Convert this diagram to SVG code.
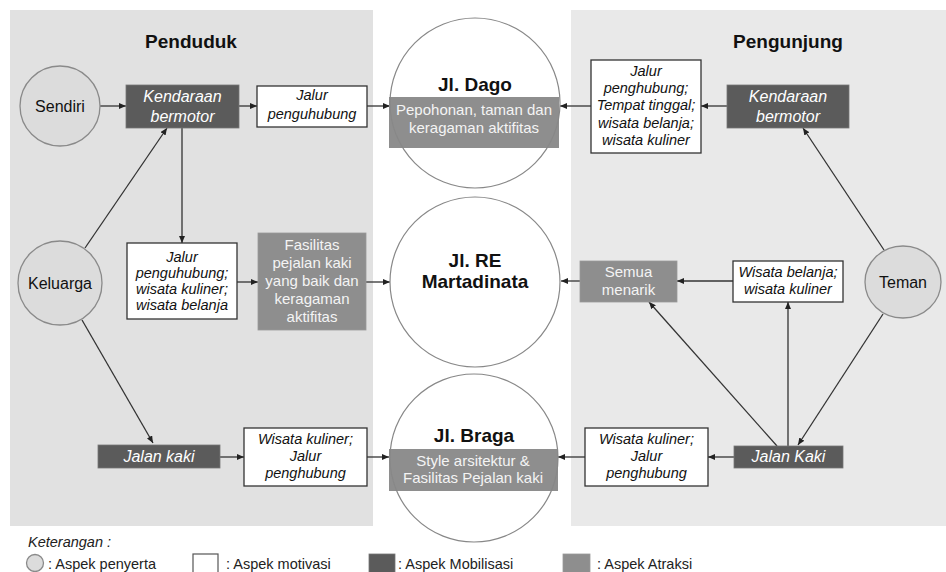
<svg xmlns="http://www.w3.org/2000/svg" width="946" height="572" viewBox="0 0 946 572">
<style>
text{font-family:"Liberation Sans",Arial,sans-serif;text-anchor:middle;fill:#111}
.title{font-size:19px;font-weight:bold}
.sm{font-size:16px}
.wb{fill:#fff;stroke:#333;stroke-width:1.3}
.wt{font-size:14.5px;font-style:italic}
.db{fill:#5b5b5b;stroke:#777;stroke-width:0.8}
.dt{font-size:16px;font-style:italic;fill:#fff}
.gb{fill:#8e8e8e;stroke:#999;stroke-width:0.8}
.gt{font-size:15px;fill:#f4f4f4}
.pc{fill:#dcdcdc;stroke:#8a8a8a;stroke-width:1.3}
.big{fill:none;stroke:#888;stroke-width:1.2}
.lg{font-size:14.5px;text-anchor:start;fill:#222}
#connectors line{stroke:#333;stroke-width:1.3;fill:none}
</style>
<defs>
<marker id="ah" markerUnits="userSpaceOnUse" markerWidth="7" markerHeight="6" refX="7" refY="3" orient="auto">
<path d="M0,0 L7,3 L0,6 z" fill="#222"/>
</marker>
</defs>

<rect x="10" y="10" width="363" height="516" fill="#e1e1e1"/>
<rect x="571" y="10" width="375" height="516" fill="#e9e9e9"/>
<text class="title" x="191" y="48">Penduduk</text>
<text class="title" x="788" y="48">Pengunjung</text>

<g id="connectors">
<line x1="100" y1="106" x2="126" y2="106" marker-end="url(#ah)"/>
<line x1="239" y1="106" x2="257" y2="106" marker-end="url(#ah)"/>
<line x1="367" y1="106" x2="390" y2="106" marker-end="url(#ah)"/>
<line x1="727" y1="106" x2="701" y2="106" marker-end="url(#ah)"/>
<line x1="591" y1="106" x2="560" y2="106" marker-end="url(#ah)"/>
<line x1="884" y1="250" x2="803" y2="128" marker-end="url(#ah)"/>
<line x1="85" y1="248" x2="167" y2="128" marker-end="url(#ah)"/>
<line x1="182" y1="128" x2="182" y2="243" marker-end="url(#ah)"/>
<line x1="237" y1="282" x2="258" y2="282" marker-end="url(#ah)"/>
<line x1="366" y1="282" x2="390" y2="282" marker-end="url(#ah)"/>
<line x1="580" y1="281" x2="561" y2="281" marker-end="url(#ah)"/>
<line x1="733" y1="281" x2="677" y2="281" marker-end="url(#ah)"/>
<line x1="777" y1="446" x2="649" y2="302" marker-end="url(#ah)"/>
<line x1="788" y1="446" x2="788" y2="302" marker-end="url(#ah)"/>
<line x1="883" y1="314" x2="798" y2="445" marker-end="url(#ah)"/>
<line x1="734" y1="457" x2="708" y2="457" marker-end="url(#ah)"/>
<line x1="585" y1="457" x2="558" y2="457" marker-end="url(#ah)"/>
<line x1="82" y1="320" x2="153" y2="443" marker-end="url(#ah)"/>
<line x1="220" y1="457" x2="244" y2="457" marker-end="url(#ah)"/>
<line x1="367" y1="457" x2="389" y2="457" marker-end="url(#ah)"/>
</g>

<g id="sendiri">
<circle class="pc" cx="60" cy="106" r="40"/>
<text class="sm" x="60" y="112">Sendiri</text>
</g>
<g id="kendaraan-l">
<rect class="db" x="126" y="85" width="113" height="43"/>
<text class="dt" x="182.5" y="102">Kendaraan</text>
<text class="dt" x="182.5" y="122">bermotor</text>
</g>
<g id="jalur-l1">
<rect class="wb" x="257" y="86" width="110" height="41"/>
<text class="wt" x="312" y="100">Jalur</text>
<text class="wt" x="312" y="119">penguhubung</text>
</g>
<g id="dago">
<circle cx="475" cy="103" r="85" fill="#fff"/>
<rect x="389" y="97" width="170" height="51" fill="#8e8e8e"/>
<circle class="big" cx="475" cy="103" r="85"/>
<text class="title" x="475" y="91">Jl. Dago</text>
<text class="gt" x="474" y="115">Pepohonan, taman dan</text>
<text class="gt" x="474" y="133">keragaman aktifitas</text>
</g>
<g id="jalur-r1">
<rect class="wb" x="591" y="60" width="110" height="93"/>
<text class="wt" x="646" y="76">Jalur</text>
<text class="wt" x="646" y="93">penghubung;</text>
<text class="wt" x="646" y="110">Tempat tinggal;</text>
<text class="wt" x="646" y="128">wisata belanja;</text>
<text class="wt" x="646" y="145">wisata kuliner</text>
</g>
<g id="kendaraan-r">
<rect class="db" x="727" y="85" width="122" height="43"/>
<text class="dt" x="788" y="102">Kendaraan</text>
<text class="dt" x="788" y="122">bermotor</text>
</g>

<g id="keluarga">
<circle class="pc" cx="60" cy="283" r="42"/>
<text class="sm" x="60" y="289">Keluarga</text>
</g>
<g id="jalur-l2">
<rect class="wb" x="127" y="243" width="110" height="76"/>
<text class="wt" x="182" y="262">Jalur</text>
<text class="wt" x="182" y="278">penguhubung;</text>
<text class="wt" x="182" y="294">wisata kuliner;</text>
<text class="wt" x="182" y="310">wisata belanja</text>
</g>
<g id="fasilitas">
<rect class="gb" x="258" y="233" width="108" height="97"/>
<text class="gt" x="312" y="250">Fasilitas</text>
<text class="gt" x="312" y="268">pejalan kaki</text>
<text class="gt" x="312" y="286">yang baik dan</text>
<text class="gt" x="312" y="304">keragaman</text>
<text class="gt" x="312" y="322">aktifitas</text>
</g>
<g id="re">
<circle cx="475" cy="282" r="85" fill="#fff" stroke="#888" stroke-width="1.2"/>
<text class="title" x="475" y="267">Jl. RE</text>
<text class="title" x="475" y="288">Martadinata</text>
</g>
<g id="semua">
<rect class="gb" x="580" y="261" width="97" height="41"/>
<text class="gt" x="628.5" y="277">Semua</text>
<text class="gt" x="628.5" y="295">menarik</text>
</g>
<g id="wisata-r2">
<rect class="wb" x="733" y="261" width="110" height="41"/>
<text class="wt" x="788" y="277">Wisata belanja;</text>
<text class="wt" x="788" y="294">wisata kuliner</text>
</g>
<g id="teman">
<ellipse class="pc" cx="903" cy="282" rx="38" ry="36"/>
<text class="sm" x="903" y="288">Teman</text>
</g>

<g id="jalan-l">
<rect class="db" x="98" y="445" width="122" height="23"/>
<text class="dt" x="159" y="462">Jalan kaki</text>
</g>
<g id="wisata-l3">
<rect class="wb" x="244" y="428" width="123" height="58"/>
<text class="wt" x="305.5" y="444">Wisata kuliner;</text>
<text class="wt" x="305.5" y="461">Jalur</text>
<text class="wt" x="305.5" y="478">penghubung</text>
</g>
<g id="braga">
<circle cx="474" cy="458" r="84" fill="#fff"/>
<rect x="389" y="449" width="169" height="42" fill="#8e8e8e"/>
<circle class="big" cx="474" cy="458" r="84"/>
<text class="title" x="474" y="442">Jl. Braga</text>
<text class="gt" x="473" y="466">Style arsitektur &amp;</text>
<text class="gt" x="473" y="483">Fasilitas Pejalan kaki</text>
</g>
<g id="wisata-r3">
<rect class="wb" x="585" y="428" width="123" height="58"/>
<text class="wt" x="646.5" y="444">Wisata kuliner;</text>
<text class="wt" x="646.5" y="461">Jalur</text>
<text class="wt" x="646.5" y="478">penghubung</text>
</g>
<g id="jalan-r">
<rect class="db" x="734" y="446" width="109" height="22"/>
<text class="dt" x="788.5" y="462">Jalan Kaki</text>
</g>

<g id="legend">
<text class="lg" x="28" y="547" font-style="italic" font-size="14">Keterangan :</text>
<circle class="pc" cx="35" cy="563" r="8.5"/>
<text class="lg" x="48" y="569">: Aspek penyerta</text>
<rect x="193" y="554" width="25" height="19" fill="#fff" stroke="#555" stroke-width="1.2"/>
<text class="lg" x="226" y="569">: Aspek motivasi</text>
<rect x="369" y="554" width="26" height="19" fill="#5b5b5b" stroke="#777" stroke-width="0.8"/>
<text class="lg" x="398" y="569">: Aspek Mobilisasi</text>
<rect x="563" y="554" width="27" height="19" fill="#8e8e8e" stroke="#999" stroke-width="0.8"/>
<text class="lg" x="597" y="569">: Aspek Atraksi</text>
</g>
</svg>
